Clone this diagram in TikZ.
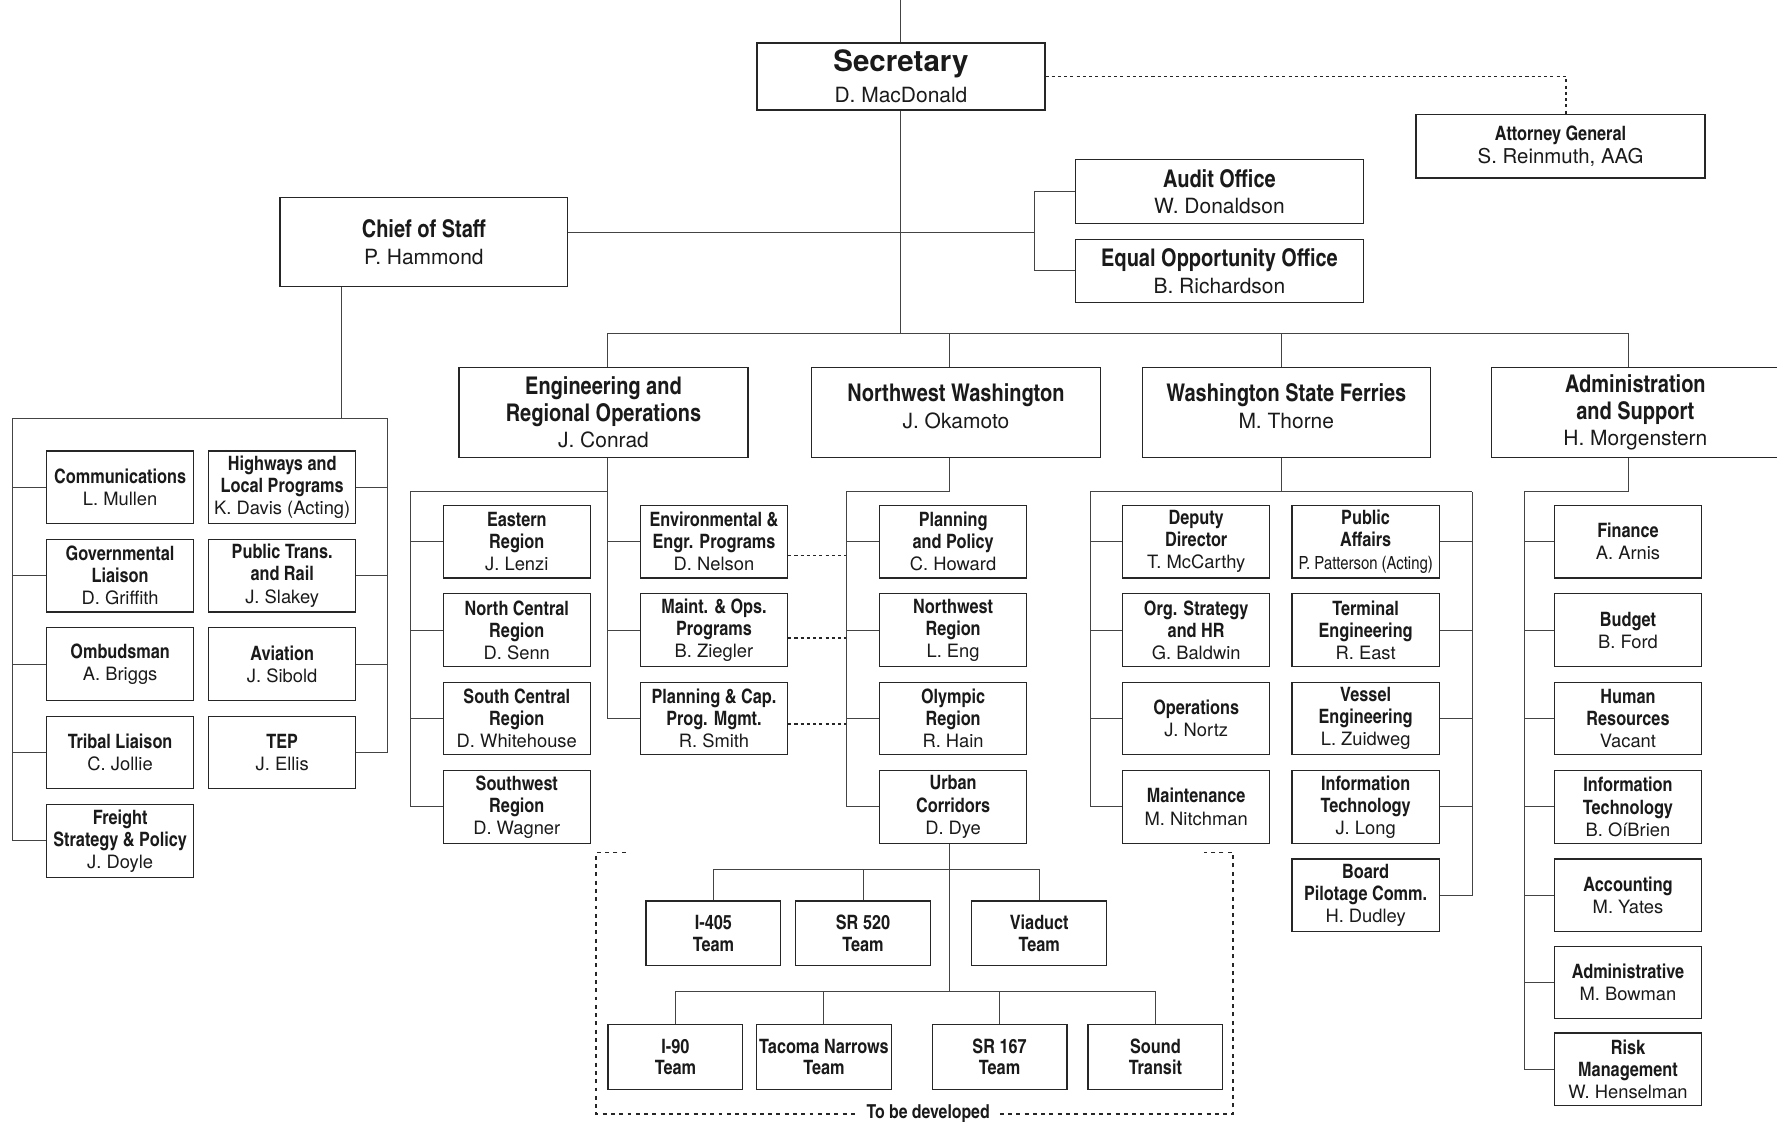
\documentclass[tikz,border=0pt]{standalone}
\usepackage{fontspec}
\setmainfont{TeX Gyre Heros}
\newfontfamily\cnb{texgyreheroscn-bold.otf}
\newfontfamily\cnr{texgyreheroscn-regular.otf}
\usetikzlibrary{calc}
\definecolor{bd}{HTML}{262626}
\definecolor{ln}{HTML}{444444}
\definecolor{tx}{HTML}{1A1A1A}
\newcommand\tA{\cnb\fontsize{17.5}{19.5}\selectfont}
\newcommand\nA{\rmfamily\fontsize{16.2}{19.5}\selectfont}
\newcommand\nAc{\cnr\fontsize{16}{19.5}\selectfont}
\newcommand\tB{\cnb\fontsize{21.5}{23.5}\selectfont}
\newcommand\nB{\rmfamily\fontsize{18.5}{23.5}\selectfont}
\newcommand\tC{\cnb\fontsize{17.5}{19}\selectfont}
\newcommand\tD{\cnb\fontsize{17.5}{21}\selectfont}
\newcommand\nD{\rmfamily\fontsize{18}{21}\selectfont}
\newcommand\tS{\rmfamily\bfseries\fontsize{26}{27}\selectfont}
\newcommand\nS{\rmfamily\fontsize{18.5}{27}\selectfont}
\newcommand\thr[3]{\tA #1\\\tA #2\\\nA #3}
\newcommand\two[2]{\tA #1\\\nA #2}
\tikzset{
 bx/.style={draw=bd, line width=1.05pt, fill=white, align=center, inner sep=0pt, text=tx},
 s3/.style={bx, minimum width=130pt, minimum height=64pt, font=\nA},
 s2/.style={bx, minimum width=255pt, minimum height=80pt, font=\nB},
 s1/.style={bx, minimum width=254pt, minimum height=56pt, font=\nB},
 tm/.style={bx, minimum width=119pt, minimum height=57pt, font=\tC},
 cn/.style={draw=ln, line width=0.85pt},
 dotl/.style={draw=bd, line width=1.4pt, dash pattern=on 2.7pt off 2.8pt},
 dsh/.style={draw=bd, line width=1.3pt, dash pattern=on 3.5pt off 3.8pt},
}
\begin{document}
\begin{tikzpicture}[x=1pt,y=-1pt]
\useasboundingbox (0,0) rectangle (1568,991);
\fill[white] (0,0) rectangle (1568,991);

% ---------- top level ----------
\node[bx, minimum width=254pt, minimum height=59pt, font=\nS] (sec) at (795,67.5) {\tS Secretary\\\nS D. MacDonald};
\node[bx, minimum width=255pt, minimum height=56pt, font=\nD] (ag) at (1377,129) {\tD Attorney General\\\nD S. Reinmuth, AAG};
\node[s1, minimum height=79pt] (cos) at (374,213.5) {\tB Chief of Staff\\\nB P. Hammond};
\node[s1] (aud) at (1076,169) {\tB Audit Office\\\nB W. Donaldson};
\node[s1] (eqo) at (1076,239) {\tB Equal Opportunity Office\\\nB B. Richardson};

\node[s2] (ero) at (532.5,364) {\tB Engineering and\\\tB Regional Operations\\\nB J. Conrad};
\node[s2, text depth=11pt] (nww) at (843.5,364) {\tB Northwest Washington\\\nB J. Okamoto};
\node[s2, text depth=11pt, minimum width=254pt] (wsf) at (1135,364) {\tB Washington State Ferries\\\nB M. Thorne};
\node[s2, minimum width=254pt] (adm) at (1443,364) {\tB Administration\\\tB and Support\\\nB H. Morgenstern};

% ---------- chief of staff group ----------
\node[s3] (comm) at (106,430) {\two{Communications}{L. Mullen}};
\node[s3] (gov)  at (106,508) {\thr{Governmental}{Liaison}{D. Griffith}};
\node[s3] (omb)  at (106,586) {\two{Ombudsman}{A. Briggs}};
\node[s3] (trb)  at (106,664) {\two{Tribal Liaison}{C. Jollie}};
\node[s3] (frt)  at (106,742) {\thr{Freight}{Strategy \& Policy}{J. Doyle}};
\node[s3] (hwy)  at (249,430) {\thr{Highways and}{Local Programs}{K. Davis (Acting)}};
\node[s3] (ptr)  at (249,508) {\thr{Public Trans.}{and Rail}{J. Slakey}};
\node[s3] (avi)  at (249,586) {\two{Aviation}{J. Sibold}};
\node[s3] (tep)  at (249,664) {\two{TEP}{J. Ellis}};

% ---------- ERO group ----------
\node[s3] (ear) at (456,478) {\thr{Eastern}{Region}{J. Lenzi}};
\node[s3] (ncr) at (456,556) {\thr{North Central}{Region}{D. Senn}};
\node[s3] (scr) at (456,634) {\thr{South Central}{Region}{D. Whitehouse}};
\node[s3] (swr) at (456,712) {\thr{Southwest}{Region}{D. Wagner}};
\node[s3] (env) at (630,478) {\thr{Environmental \&}{Engr. Programs}{D. Nelson}};
\node[s3] (mop) at (630,556) {\thr{Maint. \& Ops.}{Programs}{B. Ziegler}};
\node[s3] (pcm) at (630,634) {\thr{Planning \& Cap.}{Prog. Mgmt.}{R. Smith}};

% ---------- NW group ----------
\node[s3] (ppo) at (841,478) {\thr{Planning}{and Policy}{C. Howard}};
\node[s3] (nwr) at (841,556) {\thr{Northwest}{Region}{L. Eng}};
\node[s3] (oly) at (841,634) {\thr{Olympic}{Region}{R. Hain}};
\node[s3] (urb) at (841,712) {\thr{Urban}{Corridors}{D. Dye}};

% ---------- teams ----------
\node[tm] (i405) at (629.5,823.5) {\tC I-405\\\tC Team};
\node[tm] (s520) at (761.5,823.5) {\tC SR 520\\\tC Team};
\node[tm] (via)  at (917,823.5)   {\tC Viaduct\\\tC Team};
\node[tm] (i90)  at (596,932.5)   {\tC I-90\\\tC Team};
\node[tm] (tac)  at (727,932.5)   {\tC Tacoma Narrows\\\tC Team};
\node[tm] (s167) at (882,932.5)   {\tC SR 167\\\tC Team};
\node[tm] (snd)  at (1019.5,932.5)  {\tC Sound\\\tC Transit};

% ---------- WSF group ----------
\node[s3] (dep) at (1055.5,478) {\thr{Deputy}{Director}{T. McCarthy}};
\node[s3] (osh) at (1055.5,556) {\thr{Org. Strategy}{and HR}{G. Baldwin}};
\node[s3] (ops) at (1055.5,634) {\two{Operations}{J. Nortz}};
\node[s3] (mnt) at (1055.5,712) {\two{Maintenance}{M. Nitchman}};
\node[s3] (pub) at (1205,478) {\tA Public\\\tA Affairs\\\nAc P. Patterson (Acting)};
\node[s3] (ten) at (1205,556) {\thr{Terminal}{Engineering}{R. East}};
\node[s3] (ven) at (1205,634) {\thr{Vessel}{Engineering}{L. Zuidweg}};
\node[s3] (wit) at (1205,712) {\thr{Information}{Technology}{J. Long}};
\node[s3] (bpc) at (1205,790) {\thr{Board}{Pilotage Comm.}{H. Dudley}};

% ---------- Admin group ----------
\node[s3] (fin) at (1436.5,478) {\two{Finance}{A. Arnis}};
\node[s3] (bud) at (1436.5,556) {\two{Budget}{B. Ford}};
\node[s3] (hum) at (1436.5,634) {\thr{Human}{Resources}{Vacant}};
\node[s3] (ait) at (1436.5,712) {\thr{Information}{Technology}{B. OíBrien}};
\node[s3] (acc) at (1436.5,790) {\two{Accounting}{M. Yates}};
\node[s3] (adv) at (1436.5,867) {\two{Administrative}{M. Bowman}};
\node[s3] (rsk) at (1436.5,943.5) {\thr{Risk}{Management}{W. Henselman}};

% ---------- junction coordinates ----------
\coordinate (top) at (795,0);
\coordinate (jA) at (913,205);
\coordinate (bL) at (536,294);
\coordinate (bR) at (1437,294);
\coordinate (bM) at (795,294);
\coordinate (lgT) at (301,369);
\coordinate (lgL) at (11,369);
\coordinate (lgR) at (342,369);
\coordinate (eA) at (536,434);
\coordinate (eL) at (362,434);
\coordinate (nA) at (838,434);
\coordinate (nL) at (747,434);
\coordinate (t1) at (838,767);
\coordinate (t2) at (838,875);
\coordinate (wA) at (1131,434);
\coordinate (wL) at (962,434);
\coordinate (wR) at (1299,434);
\coordinate (aA) at (1437,434);
\coordinate (aL) at (1345,434);

% ---------- connectors ----------
\draw[cn] (top) -- (sec.north);
\draw[cn] (sec.south) -- (bM);
\draw[dotl] (sec.east) -| ($(ag.north)+(5,0)$);
\draw[cn] (cos.east |- jA) -- (jA);
\draw[cn] (aud.west) -| (jA) |- (eqo.west);
\draw[cn] (bL) -- (bR);
\draw[cn] (bL) -- (bL |- ero.north);
\draw[cn] (bL -| nA) -- (nA |- nww.north);
\draw[cn] (bL -| wA) -- (wA |- wsf.north);
\draw[cn] (bR) -- (bR |- adm.north);

% chief of staff group
\draw[cn] (cos.south -| lgT) -- (lgT);
\draw[cn] (lgL) -- (lgR);
\draw[cn] (lgL) |- (frt.west);
\draw[cn] (lgR) |- (tep.east);
\foreach \n in {comm,gov,omb,trb} \draw[cn] (\n.west -| lgL) -- (\n.west);
\foreach \n in {hwy,ptr,avi} \draw[cn] (\n.east -| lgR) -- (\n.east);

% ERO group
\draw[cn] (ero.south -| eA) -- (eA) |- (pcm.west);
\draw[cn] (eA) -- (eL) |- (swr.west);
\foreach \n in {ear,ncr,scr} \draw[cn] (\n.west -| eL) -- (\n.west);
\foreach \n in {env,mop} \draw[cn] (\n.west -| eA) -- (\n.west);
\coordinate (d1) at ($(env.east)+(0,12)$);
\coordinate (d2) at ($(mop.east)+(0,7)$);
\coordinate (d3) at ($(pcm.east)+(0,5)$);
\foreach \d in {d1,d2,d3} \draw[dotl] (\d) -- (\d -| nL);

% NW group
\draw[cn] (nww.south -| nA) -- (nA) -- (nL) |- (urb.west);
\foreach \n in {ppo,nwr,oly} \draw[cn] (\n.west -| nL) -- (\n.west);
\draw[cn] (urb.south -| t1) -- (t2);
\draw[cn] (i405.north) |- (t1) -| (via.north);
\draw[cn] (s520.north) -- (s520.north |- t1);
\draw[cn] (i90.north) |- (t2) -| (snd.north);
\draw[cn] (tac.north) -- (tac.north |- t2);
\draw[cn] (s167.north) -- (s167.north |- t2);

% WSF group
\draw[cn] (wsf.south -| wA) -- (wA);
\draw[cn] (wL) -- (wR);
\draw[cn] (wL) |- (mnt.west);
\draw[cn] (wR) |- (bpc.east);
\foreach \n in {dep,osh,ops} \draw[cn] (\n.west -| wL) -- (\n.west);
\foreach \n in {pub,ten,ven,wit} \draw[cn] (\n.east -| wR) -- (\n.east);

% Admin group
\draw[cn] (adm.south -| aA) -- (aA) -- (aL) |- (rsk.west);
\foreach \n in {fin,bud,hum,ait,acc,adv} \draw[cn] (\n.west -| aL) -- (\n.west);

% ---------- "to be developed" bracket ----------
\coordinate (dTL) at (526,752);
\coordinate (dTR) at (1088,752);
\coordinate (dBL) at (526,983);
\coordinate (dBR) at (1088,983);
\draw[dsh] ($(dTL)+(26,0)$) -- (dTL) -- (dBL) -- (dBR) -- (dTR) -- ($(dTR)+(-26,0)$);
\node[fill=white, inner xsep=7pt, inner ysep=1pt, text=tx, font=\cnb\fontsize{17}{19}\selectfont] (tbd) at (819,983) {To be developed};
\end{tikzpicture}
\end{document}
